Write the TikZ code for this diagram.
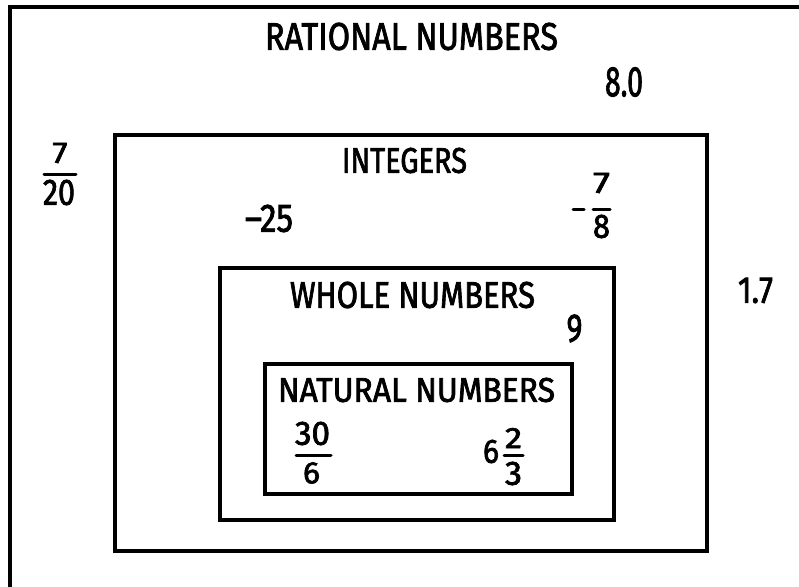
\documentclass[tikz,border=0pt]{standalone}
\usepackage{fontspec}
\setmainfont{Fira Sans}
\newfontfamily\handfont{Fira Sans}[FakeBold=2.2]
\usepackage{graphicx}
\newcommand{\fitt}[3]{\resizebox{#1pt}{#2pt}{\handfont #3}}
\tikzset{
  box/.style={draw=black, line width=4pt, line join=miter},
  lab/.style={inner sep=0pt, outer sep=0pt, anchor=center},
  fbar/.style={draw=black, line width=3pt, line cap=round}
}
\begin{document}
\begin{tikzpicture}[x=1pt, y=-1pt]
\useasboundingbox (0,0) rectangle (799,586);
\fill[white] (0,0) rectangle (799,586);
% outer rational box (extends beyond the right and bottom edges)
\draw[box] (10,590) -- (10,7) -- (805,7);
% inner boxes
\draw[box] (115,135) rectangle (707,551);
\draw[box] (220,268) rectangle (614,520);
\draw[box] (265,364) rectangle (572,494);
% titles
\node[lab] (rat) at (411.5,36.5) {\fitt{293}{27}{RATIONAL NUMBERS}};
\node[lab] (int) at (404.5,160.5) {\fitt{125}{25}{INTEGERS}};
\node[lab] (who) at (412.5,295) {\fitt{245}{26}{WHOLE NUMBERS}};
\node[lab] (nat) at (416.5,390) {\fitt{277}{24}{NATURAL NUMBERS}};
% numbers
\node[lab] (eight) at (624,82) {\fitt{38}{29}{8.0}};
\node[lab] (m25) at (269,218.5) {\fitt{48}{27}{–25}};
\node[lab] (onesev) at (755.5,290.5) {\fitt{35}{25}{1.7}};
\node[lab] (nine) at (574.5,328.5) {\fitt{16}{27}{9}};
% 7/20
\node[lab] (a7) at (60,153) {\fitt{15}{20}{7}};
\node[lab] (a20) at (59,192.5) {\fitt{32}{25}{20}};
\coordinate (ab1) at (44,174); \coordinate (ab2) at (76,174);
\draw[fbar] (ab1) -- (ab2);
% -7/8
\coordinate (mm1) at (573,209); \coordinate (mm2) at (584,209);
\draw[fbar] (mm1) -- (mm2);
\node[lab] (b7) at (601.5,183) {\fitt{17}{20}{7}};
\node[lab] (b8) at (601.5,226.5) {\fitt{17}{23}{8}};
\coordinate (bb1) at (593,209); \coordinate (bb2) at (610,209);
\draw[fbar] (bb1) -- (bb2);
% 30/6
\node[lab] (c30) at (312.5,433.5) {\fitt{35}{23}{30}};
\node[lab] (c6) at (311.5,473) {\fitt{17}{21}{6}};
\coordinate (cb1) at (296,455); \coordinate (cb2) at (331,455);
\draw[fbar] (cb1) -- (cb2);
% 6 2/3
\node[lab] (d6) at (491,451.5) {\fitt{16}{23}{6}};
\node[lab] (d2) at (513.5,438) {\fitt{17}{20}{2}};
\node[lab] (d3) at (513.5,473.5) {\fitt{17}{23}{3}};
\coordinate (db1) at (504,455); \coordinate (db2) at (523,455);
\draw[fbar] (db1) -- (db2);
\end{tikzpicture}
\end{document}
